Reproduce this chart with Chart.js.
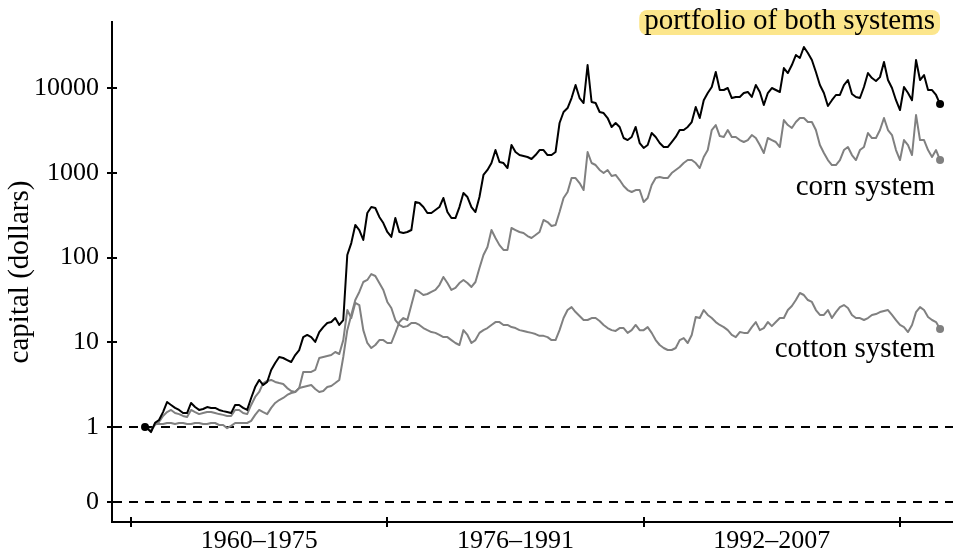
<!DOCTYPE html>
<html>
<head>
<meta charset="utf-8">
<script src="https://cdn.jsdelivr.net/npm/chart.js@4.4.1/dist/chart.umd.min.js"></script>
<style>
  html, body { margin: 0; padding: 0; background: #fff; }
</style>
</head>
<body>
<canvas id="capitalChart" width="953" height="555"></canvas>
<script>
// time axis: start of trading, then quarter-year steps
const years = [1960.875];
for (let yr = 1961; yr <= 2010.5; yr += 0.25) years.push(yr);

// capital in dollars (log scale)
const portfolio = [1,
  0.97, 0.87, 1.12, 1.21, 1.5, 1.97, 1.82, 1.68, 1.59, 1.46,
  1.46, 1.92, 1.72, 1.59, 1.63, 1.72, 1.68, 1.68, 1.59, 1.54,
  1.5, 1.46, 1.82, 1.82, 1.68, 1.59, 2.2, 2.96, 3.59, 3.13,
  3.4, 4.71, 5.69, 6.7, 6.52, 6.17, 5.85, 7.07, 8.1, 11.5,
  12.2, 11.5, 10.1, 13.2, 15.1, 16.9, 17.3, 19.3, 16.0, 18.3,
  107, 148, 242, 211, 161, 335, 394, 384, 301, 255,
  200, 175, 292, 200, 195, 200, 211, 452, 440, 394,
  335, 335, 363, 394, 504, 344, 292, 292, 394, 577,
  517, 394, 344, 517, 941, 1078, 1303, 1855, 1340, 1303,
  1137, 2125, 1758, 1619, 1577, 1535, 1453, 1619, 1855, 1855,
  1619, 1619, 1758, 3864, 5212, 5808, 7621, 10850, 7621, 6653,
  18680, 6840, 6653, 5212, 5070, 4426, 3467, 3864, 3467, 2570,
  2432, 2642, 3467, 2244, 1960, 2125, 2944, 2642, 2244, 2013,
  2013, 2305, 2642, 3193, 3193, 3467, 3970, 5970, 4426, 7180,
  8730, 10280, 15450, 9470, 9470, 10000, 7621, 7834, 7834, 8730,
  8977, 7834, 10850, 8977, 6300, 8730, 10000, 9470, 8977, 17200,
  15030, 18680, 24500, 22600, 30460, 25900, 21390, 15450, 10850, 8730,
  6135, 7180, 8273, 8273, 10850, 12420, 8500, 7834, 7621, 10280,
  15030, 13120, 12100, 13440, 20260, 12420, 10000, 7180, 5500, 10280,
  8730, 7180, 21390, 12420, 14230, 9470, 9470, 8273, 6470];

const corn = [1,
  0.97, 0.9, 1.085, 1.085, 1.085, 1.115, 1.115, 1.085, 1.115, 1.115,
  1.085, 1.085, 1.115, 1.115, 1.085, 1.085, 1.115, 1.115, 1.056, 1.056,
  0.97, 1.03, 1.115, 1.115, 1.115, 1.115, 1.18, 1.39, 1.59, 1.5,
  1.42, 1.68, 1.92, 2.08, 2.2, 2.39, 2.52, 2.59, 2.88, 4.46,
  4.46, 4.46, 4.71, 6.52, 6.7, 6.88, 7.07, 7.67, 7.27, 10.6,
  24.0, 19.3, 29.1, 27.5, 13.9, 9.8, 8.55, 9.28, 10.6, 10.6,
  9.8, 9.8, 12.9, 17.3, 19.3, 18.3, 27.5, 41.4, 39.2, 36.1,
  37.1, 39.2, 41.4, 47.3, 58.9, 50, 41.4, 43.7, 50, 54.3,
  50, 44.9, 51.4, 75.2, 107, 133, 211, 170, 140, 123,
  123, 223, 211, 200, 195, 179, 170, 184, 200, 277,
  262, 235, 242, 344, 504, 593, 867, 867, 757, 625,
  1758, 1303, 1234, 1078, 993, 1078, 916, 941, 821, 698,
  625, 593, 625, 625, 452, 504, 716, 867, 891, 867,
  867, 993, 1078, 1169, 1303, 1413, 1413, 1303, 1137, 1535,
  1855, 3193, 3656, 2710, 2642, 3193, 2642, 2642, 2432, 2305,
  2432, 2787, 2570, 2125, 1711, 2570, 2432, 2305, 2013, 4190,
  3656, 3375, 3970, 4426, 4426, 3970, 3970, 3193, 2125, 1711,
  1413, 1234, 1234, 1413, 1855, 2013, 1619, 1413, 1855, 2013,
  2944, 2570, 2570, 3193, 4426, 3193, 2787, 1855, 1413, 2432,
  2125, 1619, 4800, 2432, 2432, 1855, 1535, 1855, 1413];

const cotton = [1,
  0.97, 0.92, 1.056, 1.146, 1.35, 1.5, 1.59, 1.46, 1.42, 1.35,
  1.31, 1.59, 1.5, 1.42, 1.46, 1.5, 1.5, 1.46, 1.42, 1.39,
  1.35, 1.35, 1.59, 1.59, 1.46, 1.42, 1.82, 2.26, 2.59, 3.3,
  3.49, 3.59, 3.4, 3.3, 3.22, 2.88, 2.66, 2.59, 2.88, 2.96,
  3.05, 3.13, 2.81, 2.59, 2.66, 2.96, 3.05, 3.3, 3.59, 6.7,
  13.9, 21, 31.5, 39.2, 51.4, 54.3, 63.8, 60.5, 50, 41.4,
  29.9, 25.4, 18.3, 16, 15.1, 15.5, 16.9, 16.9, 16, 14.7,
  13.9, 13.2, 12.9, 12.2, 11.5, 11.5, 10.6, 9.8, 9.28, 13.9,
  12.2, 9.8, 10.6, 12.9, 13.9, 14.7, 16, 17.3, 17.3, 16,
  16, 15.1, 14.7, 13.9, 13.6, 13.2, 12.9, 12.5, 11.9, 11.9,
  11.5, 10.6, 10.6, 13.9, 19.3, 24, 26, 22.7, 20.4, 18.3,
  18.3, 19.3, 19.3, 17.8, 16, 14.7, 13.9, 13.6, 14.7, 14.7,
  12.9, 13.9, 16, 13.9, 13.9, 15.1, 12.9, 10.6, 9.28, 8.55,
  8.1, 8.1, 8.55, 10.6, 11.2, 9.8, 12.2, 19.9, 19.3, 24,
  21, 19.3, 17.3, 16, 15.1, 13.9, 12.2, 11.5, 13.2, 12.9,
  12.9, 15.1, 17.3, 13.9, 14.7, 17.3, 15.5, 17.3, 19.3, 19.3,
  24, 26.8, 31.5, 38.1, 36.1, 31.5, 29.9, 24, 21, 21,
  24, 19.3, 22.7, 26, 27.5, 25.4, 21, 19.3, 19.3, 18.3,
  19.3, 21, 21.5, 22.7, 23.4, 24, 21, 18.3, 16, 15.1,
  13.2, 16, 22.7, 26, 24, 19.9, 18.3, 17.3, 14.3];

// axis ticks
const yTickValues = [0, 1, 10, 100, 1000, 10000];
const yTickLabels = ['0', '1', '10', '100', '1000', '10000'];
const periodBounds = [1960, 1976, 1992, 2008];
const periodMids = [1968, 1984, 2000];
const periodLabels = ['1960–1975', '1976–1991', '1992–2007'];

const ZERO_AT = 0.13;   // where the broken log axis puts its "0"
const GRAY = '#808080';
const SERIF = "'Liberation Serif', 'Times New Roman', serif";

function pts(arr) {
    return years.map((x, i) => ({ x: x, y: arr[i] }));
}

// dashed guides, crossing ticks, end dots, series labels
const extras = {
    id: 'extras',
    beforeDatasetsDraw(chart) {
        const { ctx, chartArea, scales: { y } } = chart;
        ctx.save();
        ctx.strokeStyle = '#000';
        ctx.lineWidth = 2;
        ctx.setLineDash([9, 7]);
        [ZERO_AT, 1].forEach(v => {
            const py = Math.round(y.getPixelForValue(v));
            ctx.beginPath();
            ctx.moveTo(chartArea.left + 1, py);
            ctx.lineTo(chartArea.right, py);
            ctx.stroke();
        });
        ctx.restore();
    },
    afterDatasetsDraw(chart) {
        const ctx = chart.ctx;
        ctx.save();
        // grays first, black start/end on top
        [2, 1, 0].forEach(di => {
            const meta = chart.getDatasetMeta(di);
            const pts = meta.data;
            const marks = di === 0 ? [pts[0], pts[pts.length - 1]] : [pts[pts.length - 1]];
            ctx.fillStyle = chart.data.datasets[di].borderColor;
            marks.forEach(p => {
                ctx.beginPath();
                ctx.arc(p.x, p.y, 4, 0, Math.PI * 2);
                ctx.fill();
            });
        });
        ctx.restore();
    },
    afterDraw(chart) {
        const { ctx, chartArea, scales: { x, y } } = chart;
        ctx.save();
        ctx.strokeStyle = '#000';
        ctx.lineWidth = 2;
        y.ticks.forEach(t => {
            const py = Math.round(y.getPixelForValue(t.value));
            ctx.beginPath();
            ctx.moveTo(chartArea.left - 5, py);
            ctx.lineTo(chartArea.left + 5, py);
            ctx.stroke();
        });
        periodBounds.forEach(v => {
            const px = Math.round(x.getPixelForValue(v));
            ctx.beginPath();
            ctx.moveTo(px, chartArea.bottom - 5);
            ctx.lineTo(px, chartArea.bottom + 5);
            ctx.stroke();
        });

        const right = chartArea.right - 18;
        ctx.font = '29px ' + SERIF;
        ctx.textAlign = 'right';
        ctx.textBaseline = 'alphabetic';

        const title = 'portfolio of both systems';
        const w = ctx.measureText(title).width;
        ctx.fillStyle = '#fce68c';
        ctx.beginPath();
        ctx.roundRect(right - w - 5, 10, w + 10, 25, 8);
        ctx.fill();
        ctx.fillStyle = '#000';
        ctx.fillText(title, right, 29);
        ctx.fillText('corn system', right, 195);
        ctx.fillText('cotton system', right, 357);
        ctx.restore();
    }
};

new Chart(document.getElementById('capitalChart'), {
    type: 'line',
    data: {
        datasets: [
            { label: 'portfolio of both systems', data: pts(portfolio), borderColor: '#000', order: 0 },
            { label: 'corn system', data: pts(corn), borderColor: GRAY, order: 1 },
            { label: 'cotton system', data: pts(cotton), borderColor: GRAY, order: 1 }
        ]
    },
    options: {
        responsive: false,
        animation: false,
        devicePixelRatio: 1,
        layout: { padding: { top: 22, right: 0, left: 0, bottom: 0 } },
        elements: {
            line: { borderWidth: 2, tension: 0, borderJoinStyle: 'round' },
            point: { radius: 0, hoverRadius: 0, borderWidth: 0 }
        },
        plugins: {
            legend: { display: false },
            tooltip: { enabled: false }
        },
        scales: {
            x: {
                type: 'linear',
                min: 1958.814,
                max: 2011.308,
                grid: { display: false, drawTicks: false },
                border: { display: true, color: '#000', width: 2 },
                ticks: {
                    color: '#000',
                    font: { family: SERIF, size: 26 },
                    padding: 4,
                    maxRotation: 0,
                    autoSkip: false,
                    callback: (v, i) => periodLabels[i]
                },
                afterBuildTicks: s => { s.ticks = periodMids.map(v => ({ value: v })); },
                afterFit: s => { s.height = 33; s.paddingLeft = 0; s.paddingRight = 0; }
            },
            y: {
                type: 'logarithmic',
                min: 0.07569,
                max: 60100,
                bounds: 'data',
                grid: { display: false, drawTicks: false },
                border: { display: true, color: '#000', width: 2 },
                ticks: {
                    color: '#000',
                    font: { family: SERIF, size: 26 },
                    padding: 13,
                    autoSkip: false,
                    callback: (v, i) => yTickLabels[i]
                },
                afterBuildTicks: s => {
                    s.ticks = yTickValues.map(v => ({ value: v === 0 ? ZERO_AT : v }));
                },
                afterFit: s => { s.width = 112; s.paddingTop = 0; s.paddingBottom = 0; },
                title: {
                    display: true,
                    text: 'capital (dollars)',
                    color: '#000',
                    font: { family: SERIF, size: 29 },
                    padding: { top: 3, bottom: 0 }
                }
            }
        }
    },
    plugins: [extras]
});
</script>
</body>
</html>
